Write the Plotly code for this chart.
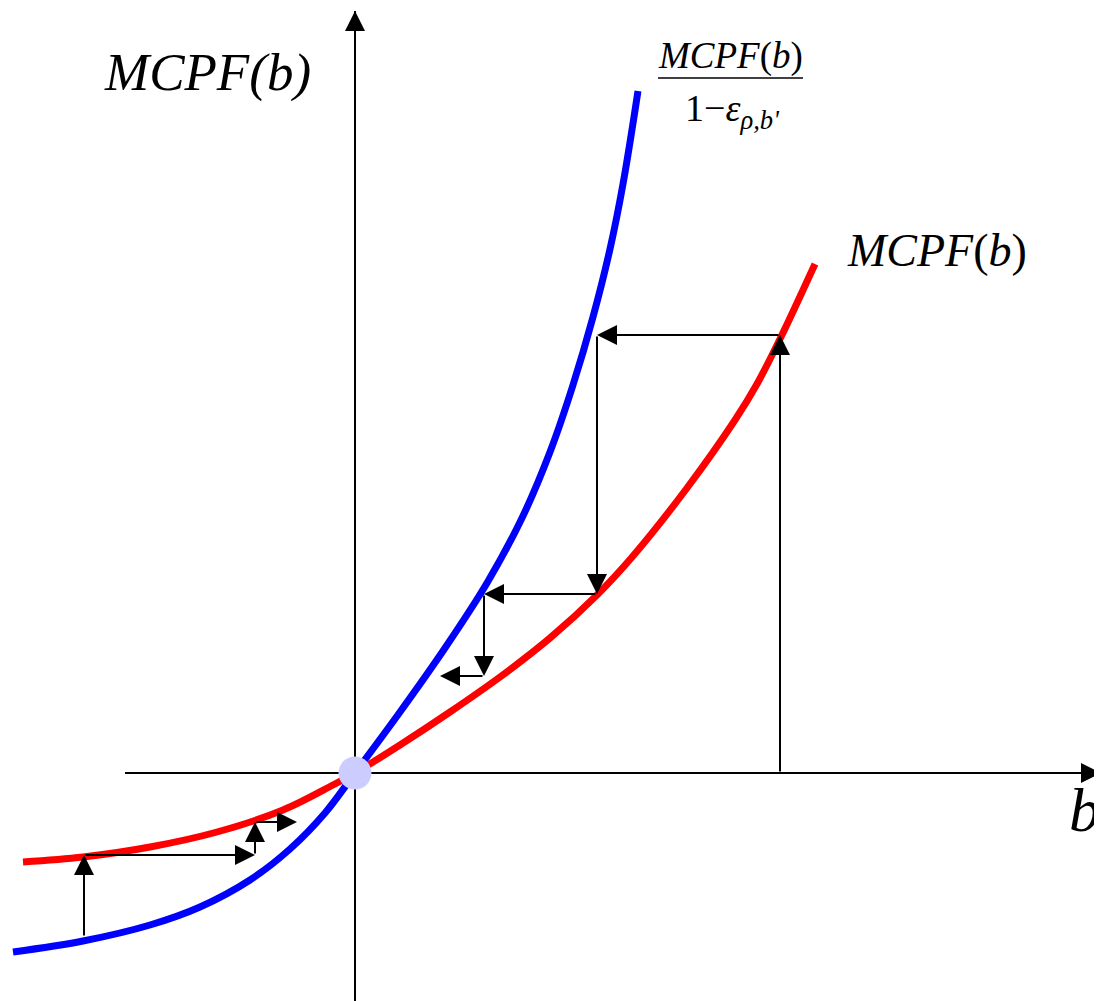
import plotly.graph_objects as go

# Curve data (diagram units; origin at the crossing point)
blue_x = [-3.42, -2.72, -2.05, -1.55, -1.05, -0.65, -0.30, 0.0, 0.45, 0.90, 1.32, 1.67, 1.95, 2.18, 2.38, 2.55, 2.68, 2.83]
blue_y = [-1.79, -1.68, -1.52, -1.34, -1.07, -0.76, -0.40, 0.0, 0.61, 1.25, 1.90, 2.55, 3.21, 3.88, 4.56, 5.24, 5.89, 6.82]

red_x = [-3.32, -2.72, -2.05, -1.38, -0.72, -0.22, 0.0, 0.45, 0.95, 1.45, 1.95, 2.42, 2.78, 3.32, 3.80, 4.02, 4.25, 4.60]
red_y = [-0.89, -0.84, -0.74, -0.59, -0.37, -0.12, 0.0, 0.28, 0.61, 0.96, 1.35, 1.78, 2.17, 2.85, 3.53, 3.89, 4.34, 5.09]

# Staircase arrow paths (consecutive points joined by arrows)
stair_right_x = [4.25, 4.25, 2.42, 2.42, 1.29, 1.29, 0.85]
stair_right_y = [0.0, 4.38, 4.38, 1.79, 1.79, 0.97, 0.97]
stair_left_x = [-2.71, -2.71, -1.00, -1.00, -0.58]
stair_left_y = [-1.64, -0.82, -0.82, -0.49, -0.49]

# Axes extents
axis_h_x = [-2.30, 7.46]
axis_v_y = [-2.30, 7.62]

# Fraction bar of the label
frac_bar_x = [3.03, 4.48]
frac_bar_y = [6.95, 6.95]

X_RANGE = [-3.47, 7.47]
Y_RANGE = [-2.28, 7.65]

fig = go.Figure()

# axes lines
fig.add_trace(go.Scatter(x=axis_h_x, y=[0, 0], mode="lines",
                         line=dict(color="black", width=2), hoverinfo="skip"))
fig.add_trace(go.Scatter(x=[0, 0], y=axis_v_y, mode="lines",
                         line=dict(color="black", width=2), hoverinfo="skip"))

# curves
fig.add_trace(go.Scatter(x=red_x, y=red_y, mode="lines", line=dict(color="#ff0000", width=7, shape="spline"), hoverinfo="skip"))
fig.add_trace(go.Scatter(x=blue_x, y=blue_y, mode="lines", line=dict(color="#0000ff", width=7, shape="spline"), hoverinfo="skip"))

# origin dot
fig.add_trace(go.Scatter(x=[0], y=[0], mode="markers",
                         marker=dict(size=33, color="#ccccff", line=dict(width=0)), hoverinfo="skip"))

# fraction bar
fig.add_trace(go.Scatter(x=frac_bar_x, y=frac_bar_y, mode="lines",
                         line=dict(color="black", width=1.5), hoverinfo="skip"))

annotations = []

def arrow(x0, y0, x1, y1):
    annotations.append(dict(x=x1, y=y1, ax=x0, ay=y0, xref="x", yref="y", axref="x", ayref="y",
                            text="", showarrow=True, arrowhead=2, arrowsize=2.0, arrowwidth=2,
                            arrowcolor="black", standoff=0, startstandoff=0))

for xs, ys in [(stair_right_x, stair_right_y), (stair_left_x, stair_left_y)]:
    for i in range(len(xs) - 1):
        arrow(xs[i], ys[i], xs[i + 1], ys[i + 1])

# axis arrowheads
arrow(axis_h_x[1] - 0.3, 0, axis_h_x[1], 0)
arrow(0, axis_v_y[1] - 0.3, 0, axis_v_y[1])

FONT = "Liberation Serif, Times New Roman, serif"

annotations += [
    dict(x=-1.48, y=7.01, xref="x", yref="y", text="<i>MCPF(b)</i>", showarrow=False,
         font=dict(family=FONT, size=53, color="black")),
    dict(x=5.82, y=5.23, xref="x", yref="y", text="<i>MCPF</i>(<i>b</i>)", showarrow=False,
         font=dict(family=FONT, size=46, color="black")),
    dict(x=3.75, y=7.17, xref="x", yref="y", text="<i>MCPF</i>(<i>b</i>)", showarrow=False,
         font=dict(family=FONT, size=37, color="black")),
    dict(x=3.77, y=6.62, xref="x", yref="y",
         text="1−<i>ε</i><sub><i>ρ,b'</i></sub>", showarrow=False,
         font=dict(family=FONT, size=38, color="black")),
    dict(x=7.29, y=-0.37, xref="x", yref="y", text="<i>b</i>", showarrow=False,
         font=dict(family=FONT, size=62, color="black")),
]

fig.update_layout(
    width=1094, height=993,
    margin=dict(l=0, r=0, t=0, b=0),
    paper_bgcolor="white", plot_bgcolor="white",
    showlegend=False,
    xaxis=dict(range=X_RANGE, visible=False, fixedrange=True),
    yaxis=dict(range=Y_RANGE, visible=False, fixedrange=True),
    annotations=annotations,
)

fig.write_html("out.html", config={"displayModeBar": False})
